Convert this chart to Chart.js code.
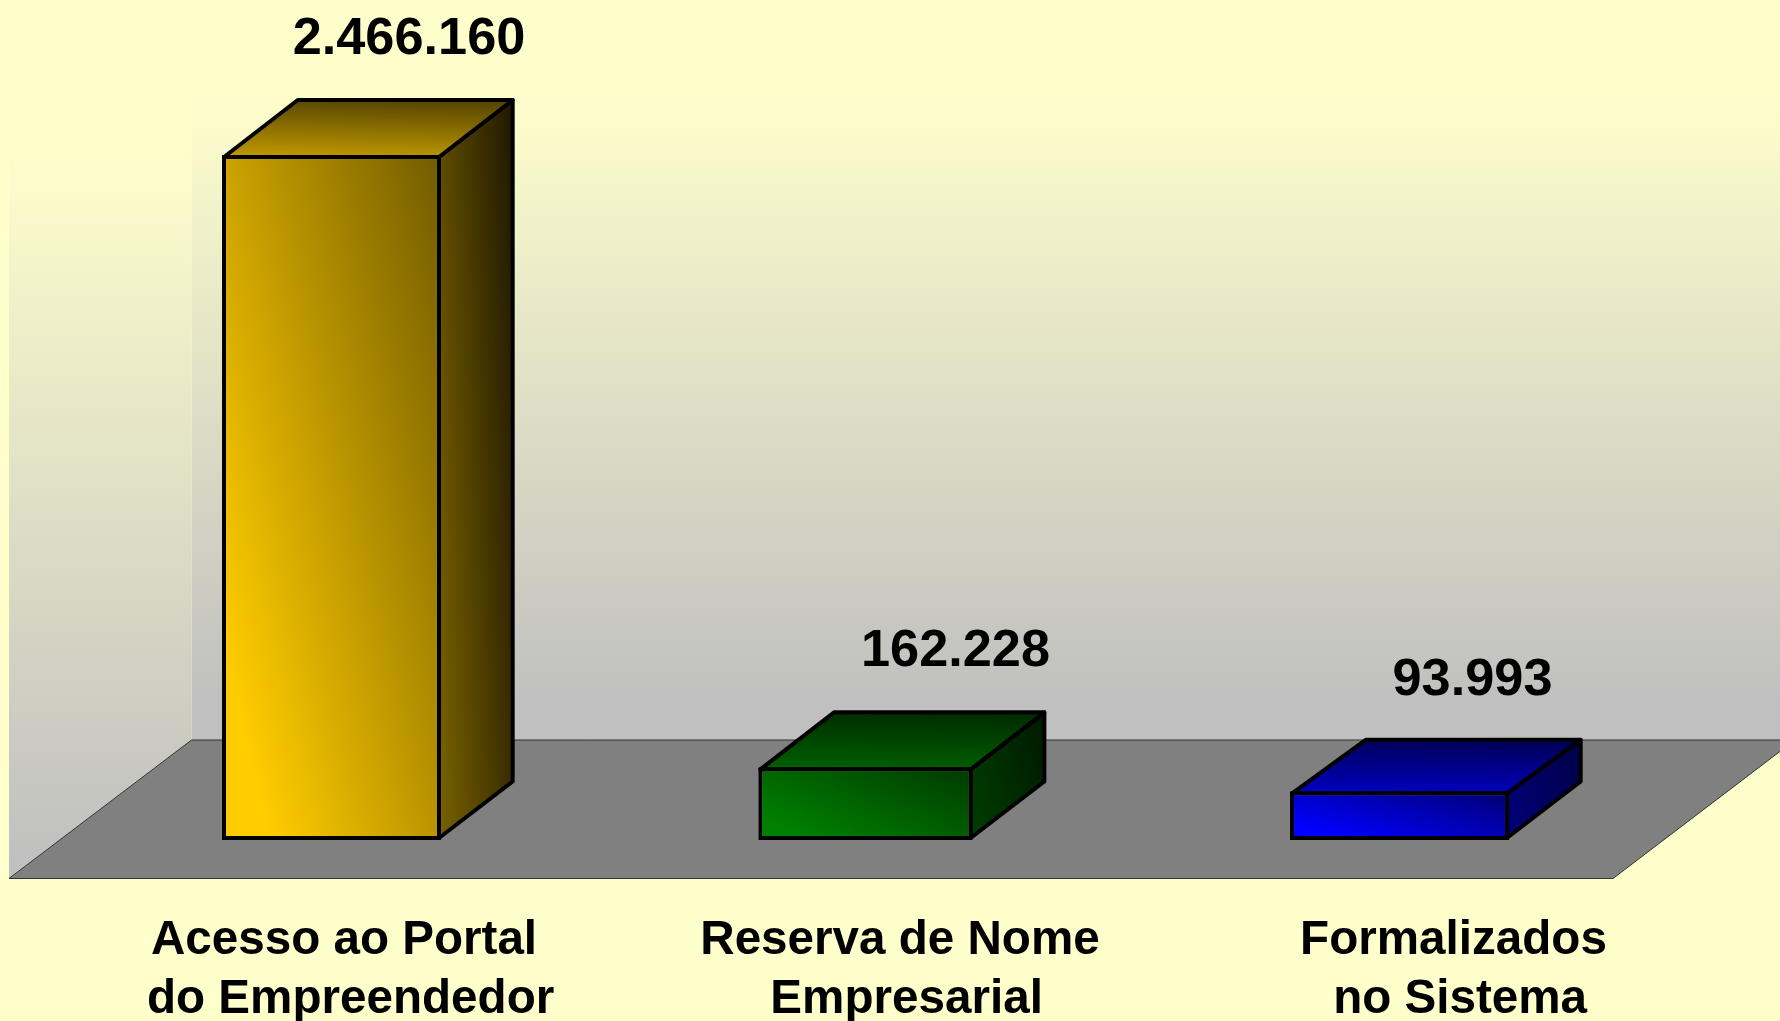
<!DOCTYPE html>
<html lang="pt">
<head>
<meta charset="utf-8">
<title>Acesso ao Portal do Empreendedor</title>
<style>html,body{margin:0;padding:0;background:#FFFFCC}canvas{display:block}</style>
<script src="https://cdn.jsdelivr.net/npm/chart.js@4/dist/chart.umd.js"></script>
</head>
<body>
<canvas id="c" width="1780" height="1021"></canvas>
<script>
// ---- data ----
const categories = [
  ['Acesso ao Portal', ' do Empreendedor'],
  ['Reserva de Nome', ' Empresarial'],
  ['Formalizados', ' no Sistema']
];
const values = [2466160, 162228, 93993];
const seriesColors = [[255, 204, 0], [0, 128, 0], [0, 0, 255]];

// The original axis is not proportional: heights follow this broken scale.
const axisBreakValues = [0, 93993, 162228, 2466160];
const axisBreakHeights = [0, 0.0711, 0.1061, 1];

// ---- layout and style ----
const STROKE = 4;
const DEPTH_X = 73.7;
const DEPTH_TOP_Y = [57, 57, 53.5];
const DEPTH_BASE_Y = 56.5;
const SIDE_END_SHADE = [0.12, 0.2, 0.28];
const BAR_INSET = [0, 2.3, 0];
const LABEL_SHIFT = [12.5, 34.5, 54];
const VALUE_DX = [77.5, 90, 73];
const VALUE_DY = [117.5, 117.5, 112.5];
const BAR_FRACTION = 0.41;
const BG = '#FFFFCC';
const FONT = '"Liberation Sans", Arial, sans-serif';

const LinearScale = Chart.registry.getScale('linear');
const CategoryScale = Chart.registry.getScale('category');

class BrokenLinearScale extends LinearScale {
  static id = 'brokenLinear';
  static defaults = LinearScale.defaults;
  getPixelForValue(v) {
    let i = 1;
    while (i < axisBreakValues.length - 1 && v > axisBreakValues[i]) i++;
    const v0 = axisBreakValues[i - 1], v1 = axisBreakValues[i];
    const h0 = axisBreakHeights[i - 1], h1 = axisBreakHeights[i];
    return this.getPixelForDecimal(h0 + (v - v0) / (v1 - v0) * (h1 - h0));
  }
}
class ShiftedCategoryScale extends CategoryScale {
  static id = 'shiftedCategory';
  static defaults = CategoryScale.defaults;
  getPixelForTick(i) { return super.getPixelForTick(i) + LABEL_SHIFT[i]; }
}
Chart.register(BrokenLinearScale, ShiftedCategoryScale);

const shade = (rgb, k) => `rgb(${rgb.map(c => Math.round(c * k)).join(',')})`;

// gradient over a face: lightest at corner (x0,y0), darkest at opposite corner
function faceGradient(ctx, x0, y0, w, h, A, rgb, k0, k1, plateau) {
  const gx = A / w, gy = (1 - A) / h, n = gx * gx + gy * gy;
  const g = ctx.createLinearGradient(x0, y0, x0 + gx / n, y0 - gy / n);
  g.addColorStop(0, shade(rgb, k0));
  if (plateau) g.addColorStop(plateau, shade(rgb, k0));
  g.addColorStop(1, shade(rgb, k1));
  return g;
}

function barBox(chart, i) {
  const xs = chart.scales.x, ys = chart.scales.y;
  const cx = xs.getPixelForValue(i);
  const spacing = xs.width / categories.length;
  const half = spacing * BAR_FRACTION / 2 - STROKE / 2 - BAR_INSET[i];
  return {
    left: cx - half, right: cx + half, cx,
    top: ys.getPixelForValue(values[i]) + STROKE / 2,
    base: ys.getPixelForValue(0) - STROKE / 2
  };
}

const scenePlugin = {
  id: 'scene',
  beforeDraw(chart) {
    const { ctx, chartArea: a, width } = chart;
    const backY = a.bottom - 100, frontY = a.bottom + 38.5;
    const fl = a.left - 55.5, bl = a.left + 127;
    const fr = a.left + 1548.5, br = fr + 182;
    ctx.save();
    ctx.fillStyle = BG;
    ctx.fillRect(0, 0, width, chart.height);
    // back wall
    let g = ctx.createLinearGradient(0, 85, 0, backY - 40);
    g.addColorStop(0, '#FFFFCC');
    g.addColorStop(1, '#C0C0C0');
    ctx.fillStyle = g;
    ctx.fillRect(bl, 0, width - bl, backY);
    // side wall
    g = ctx.createLinearGradient(0, 140, 0, frontY - 20);
    g.addColorStop(0, '#FFFFCC');
    g.addColorStop(1, '#C0C0C0');
    ctx.fillStyle = g;
    ctx.beginPath();
    ctx.moveTo(fl, frontY); ctx.lineTo(bl, backY); ctx.lineTo(bl, 0); ctx.lineTo(fl, 140);
    ctx.closePath(); ctx.fill();
    // floor
    ctx.fillStyle = '#808080';
    ctx.strokeStyle = '#333333';
    ctx.lineWidth = 1;
    ctx.beginPath();
    ctx.moveTo(fl, frontY); ctx.lineTo(bl, backY); ctx.lineTo(br, backY); ctx.lineTo(fr, frontY);
    ctx.closePath(); ctx.fill(); ctx.stroke();
    ctx.restore();
  },
  beforeDatasetsDraw(chart) {
    const { ctx } = chart;
    const elements = chart.getDatasetMeta(0).data;
    ctx.save();
    ctx.strokeStyle = '#000';
    ctx.lineWidth = STROKE;
    ctx.lineJoin = 'round';
    values.forEach((v, i) => {
      const b = barBox(chart, i), rgb = seriesColors[i];
      elements[i].width = b.right - b.left + STROKE;
      const dyT = DEPTH_TOP_Y[i], h = b.base - b.top;
      // side face
      ctx.fillStyle = faceGradient(ctx, b.right, b.base, DEPTH_X, h + dyT, 0.7, rgb, 0.48, SIDE_END_SHADE[i]);
      ctx.beginPath();
      ctx.moveTo(b.right, b.base);
      ctx.lineTo(b.right + DEPTH_X, b.base - DEPTH_BASE_Y);
      ctx.lineTo(b.right + DEPTH_X, b.top - dyT);
      ctx.lineTo(b.right, b.top);
      ctx.closePath(); ctx.fill(); ctx.stroke();
      // top face
      ctx.fillStyle = faceGradient(ctx, b.left, b.top, b.right - b.left + DEPTH_X, dyT, 0.1, rgb, 0.76, 0.32);
      ctx.beginPath();
      ctx.moveTo(b.left, b.top);
      ctx.lineTo(b.left + DEPTH_X, b.top - dyT);
      ctx.lineTo(b.right + DEPTH_X, b.top - dyT);
      ctx.lineTo(b.right, b.top);
      ctx.closePath(); ctx.fill(); ctx.stroke();
    });
    ctx.restore();
  },
  afterDatasetsDraw(chart) {
    const { ctx } = chart;
    ctx.save();
    ctx.fillStyle = '#000';
    ctx.font = `bold 52.3px ${FONT}`;
    ctx.textAlign = 'center';
    ctx.textBaseline = 'middle';
    values.forEach((v, i) => {
      const b = barBox(chart, i);
      const txt = String(v).replace(/\B(?=(\d{3})+$)/g, '.');
      ctx.fillText(txt, b.cx + VALUE_DX[i], b.top - VALUE_DY[i]);
    });
    ctx.restore();
  }
};

new Chart(document.getElementById('c'), {
  type: 'bar',
  data: {
    labels: categories,
    datasets: [{
      data: values,
      clip: false,
      barPercentage: BAR_FRACTION,
      categoryPercentage: 1,
      borderColor: '#000',
      borderWidth: STROKE,
      borderSkipped: false,
      backgroundColor(c) {
        const chart = c.chart;
        if (!chart.chartArea || c.dataIndex === undefined) return shade(seriesColors[0], 1);
        const i = c.dataIndex, b = barBox(chart, i);
        return faceGradient(chart.ctx, b.left, b.base, b.right - b.left, b.base - b.top, 0.56, seriesColors[i], 1, 0.45, 0.12);
      }
    }]
  },
  options: {
    responsive: false,
    animation: false,
    devicePixelRatio: 1,
    layout: { padding: { left: 64.5, right: 113.5, top: 155, bottom: 0 } },
    plugins: { legend: { display: false }, tooltip: { enabled: false }, title: { display: false } },
    scales: {
      x: {
        type: 'shiftedCategory',
        afterFit(s) { s.height = 181; },
        grid: { display: false, drawTicks: false },
        border: { display: false },
        ticks: {
          color: '#000',
          autoSkip: false,
          maxRotation: 0,
          minRotation: 0,
          padding: 71.5,
          font: { family: FONT, size: 47.6, weight: 'bold', lineHeight: 1.24 }
        }
      },
      y: {
        type: 'brokenLinear',
        display: false,
        min: 0,
        max: 2466160
      }
    }
  },
  plugins: [scenePlugin]
});
</script>
</body>
</html>
